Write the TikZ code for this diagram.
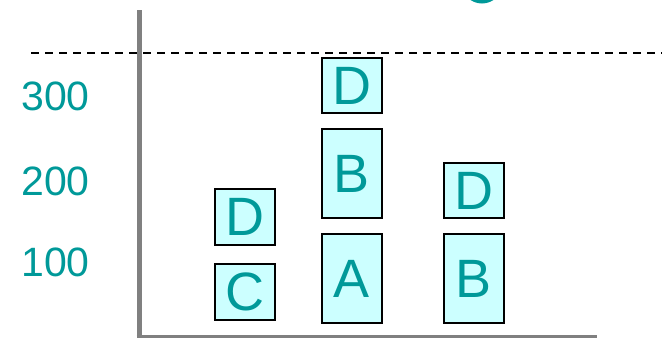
\documentclass[tikz,border=0pt]{standalone}
\usepackage{fontspec}
\setmainfont{Liberation Sans}
\definecolor{tealtxt}{HTML}{009999}
\definecolor{boxfill}{HTML}{CCFFFF}
\definecolor{axisgray}{HTML}{808080}
\begin{document}
\begin{tikzpicture}[x=1pt,y=1pt,
  blk/.style={draw=black, line width=2pt, fill=boxfill, text=tealtxt, inner sep=0pt,
    minimum width=60pt, font=\fontsize{54}{60}\selectfont},
  tick/.style={text=tealtxt, inner sep=0pt, anchor=east, font=\fontsize{41}{48}\selectfont},
  axis/.style={draw=axisgray}]
\useasboundingbox (0,0) rectangle (662,-338);
% partial teal circle at top
\fill[tealtxt] (482,-3.5) ++(0,20.6) circle[radius=20.6];
% dashed limit line
\coordinate (dl) at (31,-53.3);
\coordinate (dr) at (662,-53.3);
\draw[line width=2pt, dash pattern=on 8pt off 6pt] (dl) -- (dr);
% axes
\coordinate (ytop) at (139,-10);
\coordinate (origin) at (139,-336.5);
\coordinate (xend) at (597,-336.5);
\draw[axis, line width=5pt] (ytop) -- (139,-338);
\draw[axis, line width=3pt] (136.5,-336.5) -- (xend);
% tick labels
\node[tick] (t300) at (90,-96) {300};
\node[tick] (t200) at (90,-181) {200};
\node[tick] (t100) at (90,-262) {100};
% boxes
\node[blk, minimum height=56pt] (c1) at (245,-292) {C};
\node[blk, minimum height=56pt] (d1) at (245,-217) {D};
\node[blk, minimum height=89pt] (a2) at (352,-278.5) {A};
\node[blk, minimum height=89pt] (b2) at (352,-173.5) {B};
\node[blk, minimum height=55pt] (d2) at (352,-85.5) {D};
\node[blk, minimum height=89pt] (b3) at (474,-278.5) {B};
\node[blk, minimum height=55pt] (d3) at (474,-190.5) {D};
\end{tikzpicture}
\end{document}
